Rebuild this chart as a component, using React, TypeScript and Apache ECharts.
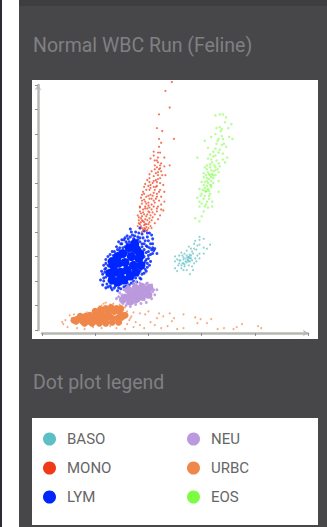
import React, { useEffect, useRef } from "react";
import * as echarts from "echarts";

const titleText = "Normal WBC Run (Feline)";
const legendTitleText = "Dot plot legend";
const xTicks = { min: 0, max: 250, interval: 50 };
const yTicks = { min: 0, max: 250, interval: 25 };

const baso = [[148,95],[144,91],[148,92],[152,93],[143,88],[148,87],[158,87],[152,84],[138,85],[140,83],[143,83],[155,83],[136,81],[145,82],[148,78],[152,78],[131,79],[136,76],[139,77],[142,78],[125,75],[129,76],[132,76],[138,74],[140,73],[144,73],[148,73],[125,70],[130,71],[133,72],[137,71],[139,70],[145,70],[129,68],[133,68],[136,69],[125,63],[128,66],[131,66],[134,65],[141,65],[143,68],[127,60],[133,61],[136,61],[142,61],[139,57],[138,75],[137,72],[140,76],[134,67],[139,73],[137,74],[141,71],[135,70],[132,68],[138,70],[146,86],[141,80],[134,78],[127,72],[131,63],[138,66],[135,73],[133,74],[129,71],[146,76]];

const mono = [[122,253],[116,244],[120,227],[110,220],[108,206],[113,203],[110,195],[124,195],[112,191],[110,187],[105,182],[109,181],[111,181],[115,176],[102,175],[106,173],[109,171],[112,170],[120,168],[115,167],[106,168],[108,166],[111,165],[109,161],[112,162],[101,159],[105,157],[109,158],[116,158],[101,155],[111,155],[108,151],[104,150],[101,151],[96,146],[105,146],[108,147],[114,148],[95,141],[101,143],[106,143],[111,143],[94,138],[98,136],[102,138],[108,139],[115,141],[97,131],[101,134],[107,134],[112,136],[94,129],[92,125],[97,126],[101,125],[109,126],[115,131],[92,126],[97,124],[105,126],[114,122],[92,121],[95,120],[100,121],[108,121],[90,117],[94,116],[98,116],[102,117],[111,117],[91,112],[95,111],[99,112],[103,112],[92,108],[96,107],[100,108],[94,104],[97,103],[100,104],[90,106],[98,101],[95,102],[93,110],[97,113],[101,110],[104,120],[99,118],[93,119],[103,128],[106,130],[100,130],[96,133],[104,137],[100,147],[107,153],[110,164],[108,173],[93,114],[96,110],[98,105],[102,106],[106,109],[104,115],[110,132],[112,128],[99,102],[96,104],[93,106],[91,109],[94,112],[98,108],[101,114],[96,118],[91,115],[103,123],[99,124],[95,123],[106,118],[108,124],[100,127],[105,132],[98,129],[94,132],[103,134],[108,136],[100,137],[96,139],[105,140],[110,141],[102,145],[98,143],[107,146],[111,150],[105,152],[102,148],[109,154],[113,158],[107,160],[103,162],[111,168],[106,164],[109,176],[105,178],[97,149],[99,153],[93,135],[101,120],[97,108],[94,100],[103,104],[109,113],[112,123]];

const lym = [[83,103],[88,100],[92,104],[96,101],[101,99],[85,97],[90,95],[94,98],[99,95],[104,93],[80,96],[77,92],[82,90],[87,92],[92,90],[97,91],[102,88],[106,83],[74,88],[78,85],[84,84],[94,85],[99,85],[103,82],[70,85],[73,81],[78,80],[93,80],[98,79],[102,77],[108,78],[66,80],[70,77],[95,74],[100,73],[62,75],[65,72],[68,72],[96,68],[99,68],[60,68],[63,65],[97,62],[94,57],[59,62],[61,60],[57,57],[60,54],[92,53],[89,49],[58,50],[61,47],[64,45],[68,43],[72,43],[77,44],[82,46],[86,47],[57,46],[60,43],[66,41],[71,40],[75,88],[80,88],[85,89],[90,87],[96,88],[100,91],[104,88],[73,84],[77,76],[81,79],[85,80],[90,82],[96,82],[100,80],[104,78],[68,80],[64,77],[69,74],[94,76],[98,72],[102,70],[96,75],[63,70],[60,72],[95,65],[98,60],[61,57],[64,60],[59,59],[92,60],[93,52],[88,53],[63,50],[65,48],[69,45],[74,47],[80,48],[86,50],[90,56],[58,53],[96,58],[84,100],[87,96],[91,99],[95,94],[99,99],[103,97],[89,91],[81,93],[76,84],[72,90],[82,86],[78,94],[75,80],[71,82],[67,76],[62,66],[66,62],[60,63],[58,66],[99,64],[101,66],[97,70],[93,72],[91,64],[93,62],[90,92],[94,88],[98,86],[101,84],[92,94],[86,93],[83,95],[79,90],[75,92],[104,84],[100,76],[105,81],[62,44],[65,43],[74,42],[79,45],[84,48],[55,51],[56,60]];

const lymCore = [[66,51],[71,49],[77,51],[83,55],[88,59],[93,66],[69,59],[74,59],[80,61],[86,66],[91,73],[67,66],[72,68],[78,69],[84,75],[89,82],[71,75],[76,78],[82,84],[87,88],[64,58],[74,53],[66,70],[92,78]];

const neu = [[72,34],[74,30],[76,27],[79,25],[83,24],[88,26],[93,27],[98,28],[103,32],[106,36],[105,41],[103,46],[98,47],[92,48],[86,47],[81,45],[77,41],[73,38],[70,32],[75,36],[80,27],[85,28],[91,30],[96,31],[101,35],[104,39],[108,41],[99,48],[88,49]];

const neuCore = [[78,33],[83,35],[87,38],[92,39],[97,41],[83,29],[88,31],[94,34],[100,36],[88,43],[94,44],[101,43],[81,41],[76,31],[90,34],[86,33]];

const urbc = [[22,10],[20,6],[24,3],[28,12],[26,15],[19,8],[33,2],[40,1],[48,3],[56,2],[64,4],[70,2],[78,1],[86,3],[92,5],[80,6],[74,9],[82,10],[88,8],[84,14],[79,16],[76,20],[70,24],[64,26],[58,27],[54,24],[49,21],[42,18],[35,16],[30,16],[86,18],[92,17],[97,16],[100,19],[102,8],[108,12],[114,14],[118,4],[112,2],[106,5],[96,2],[122,9],[124,12],[127,1],[133,2],[133,16],[144,13],[149,11],[146,7],[155,7],[159,11],[165,1],[171,2],[180,1],[183,3],[188,6],[203,4],[206,2],[120,17],[110,17],[80,19],[83,12],[78,23],[73,26],[67,27],[60,28],[56,25]];

const urbcCore = [[32,9],[38,9],[43,9],[49,9],[55,10],[60,11],[66,12],[71,12],[45,15],[51,16],[56,17],[62,19],[68,19],[73,18],[60,22],[33,11],[30,10],[36,14],[41,14],[48,12],[53,13],[58,14],[63,15],[75,13],[78,15],[65,23],[55,21],[50,19],[70,22],[74,22],[66,8],[72,8],[60,7],[54,7],[47,7],[40,7]];

const eos = [[163,219],[167,220],[170,220],[173,217],[178,210],[172,212],[167,207],[164,206],[169,205],[175,206],[163,200],[159,197],[153,193],[170,195],[176,197],[179,195],[164,190],[169,189],[173,187],[156,186],[161,182],[166,181],[170,180],[146,176],[156,175],[161,177],[174,176],[160,171],[166,170],[172,171],[153,166],[158,166],[163,166],[167,167],[152,160],[156,161],[161,162],[166,161],[158,158],[163,158],[152,156],[157,154],[161,155],[166,152],[153,151],[150,151],[156,150],[161,150],[148,144],[153,145],[156,144],[159,146],[166,141],[150,139],[154,141],[158,139],[146,135],[152,134],[155,131],[160,131],[148,126],[153,126],[156,125],[160,126],[144,114],[148,111],[150,116],[152,121],[155,164],[159,163],[157,159],[160,159],[154,158],[155,147],[153,142],[157,142],[155,152],[159,152],[163,178],[158,179],[166,195],[169,198],[163,163],[168,203],[165,193],[171,190],[167,184],[163,185],[159,174],[162,168],[158,169],[155,168],[165,164],[159,156],[155,155],[158,148],[152,148],[155,142],[151,143],[149,137],[153,137],[157,137],[150,129],[154,128],[157,134],[148,131],[161,158],[164,173],[170,174],[159,148]];

const legendLeft = ["BASO", "MONO", "LYM"];
const legendRight = ["NEU", "URBC", "EOS"];

const COLORS: Record<string, string> = {
  BASO: "#5bbfc4",
  MONO: "#f03a17",
  LYM: "#0026ff",
  NEU: "#bb99dd",
  URBC: "#f0874a",
  EOS: "#7dfc44",
};

function dots(name: string, data: number[][], size: number, opacity: number) {
  return {
    name,
    type: "scatter",
    data,
    symbol: "circle",
    symbolSize: size,
    silent: true,
    clip: false,
    itemStyle: { color: COLORS[name], opacity },
  };
}

export default function App() {
  const ref = useRef<HTMLDivElement>(null);
  useEffect(() => {
    document.body.style.margin = "0";
    document.body.style.overflow = "hidden";
    const chart = echarts.init(ref.current!, null, { renderer: "svg" });
    const font = "Roboto";
    const legendBase = {
      orient: "vertical",
      top: 431.5,
      padding: 0,
      itemWidth: 13,
      itemHeight: 13,
      itemGap: 14,
      icon: "circle",
      selectedMode: false,
      itemStyle: { opacity: 1 },
      textStyle: { fontFamily: font, fontSize: 15, color: "#666666", padding: [0, 0, 0, 6] },
    };
    chart.setOption({
      animation: false,
      backgroundColor: "#ffffff",
      grid: { left: 42, right: 19, top: 85, bottom: 197 },
      xAxis: {
        type: "value",
        ...xTicks,
        offset: 3,
        splitLine: { show: false },
        axisLabel: { show: false },
        axisLine: { show: true, onZero: false, symbol: ["none", "arrow"], symbolSize: [5, 5], lineStyle: { color: "#b8b8b4", width: 2.5 } },
        axisTick: { show: true, length: 3, lineStyle: { color: "#8f8f8f", width: 1 } },
      },
      yAxis: {
        type: "value",
        ...yTicks,
        offset: 4,
        splitLine: { show: false },
        axisLabel: { show: false },
        axisLine: { show: true, onZero: false, symbol: ["none", "arrow"], symbolSize: [5, 5], lineStyle: { color: "#b8b8b4", width: 2.5 } },
        axisTick: { show: true, length: 3, lineStyle: { color: "#8f8f8f", width: 1 } },
      },
      legend: [
        { ...legendBase, left: 43, data: legendLeft },
        { ...legendBase, left: 187, data: legendRight },
      ],
      graphic: {
        z: -10,
        elements: [
          { type: "rect", z: -10, shape: { x: 0, y: 0, width: 2, height: 527 }, style: { fill: "#2b2d33" } },
          { type: "rect", z: -10, shape: { x: 19, y: 0, width: 308, height: 527 }, style: { fill: "#47474a" } },
          { type: "rect", z: -10, shape: { x: 19, y: 0, width: 308, height: 6 }, style: { fill: "#3e3e41" } },
          { type: "rect", z: -9, shape: { x: 32, y: 80, width: 286, height: 259 }, style: { fill: "#ffffff" } },
          { type: "rect", z: -9, shape: { x: 32, y: 418, width: 286, height: 107 }, style: { fill: "#ffffff" } },
          { type: "text", z: 5, x: 33, y: 45, style: { text: titleText, fontFamily: font, fontSize: 19.5, fill: "#808082", textVerticalAlign: "middle" } },
          { type: "text", z: 5, x: 33, y: 382, style: { text: legendTitleText, fontFamily: font, fontSize: 19.5, fill: "#808082", textVerticalAlign: "middle" } },
        ],
      },
      series: [
        dots("BASO", baso, 2, 0.7),
        dots("EOS", eos, 2.5, 0.55),
        dots("LYM", lym, 3, 0.85),
        dots("LYM", lymCore, 9, 1),
        dots("NEU", neu, 3, 0.9),
        dots("NEU", neuCore, 8, 1),
        dots("URBC", urbc, 2, 0.7),
        dots("URBC", urbcCore, 7, 1),
        dots("MONO", mono, 2.2, 0.7),
      ],
    });
    return () => chart.dispose();
  }, []);
  return <div ref={ref} style={{ width: 327, height: 527 }} />;
}
